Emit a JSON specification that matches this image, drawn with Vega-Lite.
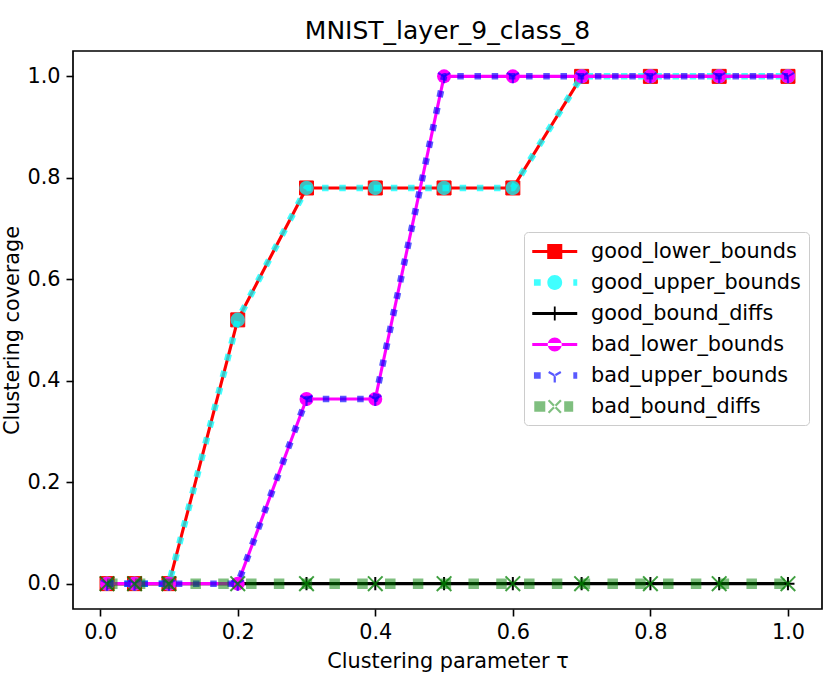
{
  "$schema": "https://vega.github.io/schema/vega-lite/v6.json",
  "width": 749,
  "height": 558,
  "autosize": {"type": "none"},
  "padding": {"left": 73, "top": 51, "right": 8, "bottom": 68},
  "background": "white",
  "config": {
    "font": "DejaVu Sans",
    "view": {"stroke": "black", "strokeWidth": 1.7},
    "axis": {
      "domain": false,
      "grid": false,
      "ticks": true,
      "tickColor": "black",
      "tickSize": 7,
      "tickWidth": 1.6,
      "labelPadding": 6,
      "labelFontSize": 20.8,
      "labelColor": "black",
      "labelFont": "DejaVu Sans",
      "titleFont": "DejaVu Sans",
      "titleFontSize": 20.8,
      "titleFontWeight": "normal",
      "titleColor": "black"
    }
  },
  "title": {
    "text": "MNIST_layer_9_class_8",
    "fontSize": 25,
    "font": "DejaVu Sans",
    "fontWeight": "normal",
    "color": "black",
    "anchor": "middle",
    "frame": "group",
    "baseline": "bottom",
    "offset": 8,
    "dy": 26
  },
  "data": {
    "values": [
      {"t": 0.01, "v": 0, "s": "good_lower_bounds"},
      {"t": 0.05, "v": 0, "s": "good_lower_bounds"},
      {"t": 0.1, "v": 0, "s": "good_lower_bounds"},
      {"t": 0.2, "v": 0.52, "s": "good_lower_bounds"},
      {"t": 0.3, "v": 0.78, "s": "good_lower_bounds"},
      {"t": 0.4, "v": 0.78, "s": "good_lower_bounds"},
      {"t": 0.5, "v": 0.78, "s": "good_lower_bounds"},
      {"t": 0.6, "v": 0.78, "s": "good_lower_bounds"},
      {"t": 0.7, "v": 1, "s": "good_lower_bounds"},
      {"t": 0.8, "v": 1, "s": "good_lower_bounds"},
      {"t": 0.9, "v": 1, "s": "good_lower_bounds"},
      {"t": 1.0, "v": 1, "s": "good_lower_bounds"},
      {"t": 0.01, "v": 0, "s": "good_upper_bounds"},
      {"t": 0.05, "v": 0, "s": "good_upper_bounds"},
      {"t": 0.1, "v": 0, "s": "good_upper_bounds"},
      {"t": 0.2, "v": 0.52, "s": "good_upper_bounds"},
      {"t": 0.3, "v": 0.78, "s": "good_upper_bounds"},
      {"t": 0.4, "v": 0.78, "s": "good_upper_bounds"},
      {"t": 0.5, "v": 0.78, "s": "good_upper_bounds"},
      {"t": 0.6, "v": 0.78, "s": "good_upper_bounds"},
      {"t": 0.7, "v": 1, "s": "good_upper_bounds"},
      {"t": 0.8, "v": 1, "s": "good_upper_bounds"},
      {"t": 0.9, "v": 1, "s": "good_upper_bounds"},
      {"t": 1.0, "v": 1, "s": "good_upper_bounds"},
      {"t": 0.01, "v": 0, "s": "good_bound_diffs"},
      {"t": 0.05, "v": 0, "s": "good_bound_diffs"},
      {"t": 0.1, "v": 0, "s": "good_bound_diffs"},
      {"t": 0.2, "v": 0, "s": "good_bound_diffs"},
      {"t": 0.3, "v": 0, "s": "good_bound_diffs"},
      {"t": 0.4, "v": 0, "s": "good_bound_diffs"},
      {"t": 0.5, "v": 0, "s": "good_bound_diffs"},
      {"t": 0.6, "v": 0, "s": "good_bound_diffs"},
      {"t": 0.7, "v": 0, "s": "good_bound_diffs"},
      {"t": 0.8, "v": 0, "s": "good_bound_diffs"},
      {"t": 0.9, "v": 0, "s": "good_bound_diffs"},
      {"t": 1.0, "v": 0, "s": "good_bound_diffs"},
      {"t": 0.01, "v": 0, "s": "bad_lower_bounds"},
      {"t": 0.05, "v": 0, "s": "bad_lower_bounds"},
      {"t": 0.1, "v": 0, "s": "bad_lower_bounds"},
      {"t": 0.2, "v": 0, "s": "bad_lower_bounds"},
      {"t": 0.3, "v": 0.364, "s": "bad_lower_bounds"},
      {"t": 0.4, "v": 0.364, "s": "bad_lower_bounds"},
      {"t": 0.5, "v": 1, "s": "bad_lower_bounds"},
      {"t": 0.6, "v": 1, "s": "bad_lower_bounds"},
      {"t": 0.7, "v": 1, "s": "bad_lower_bounds"},
      {"t": 0.8, "v": 1, "s": "bad_lower_bounds"},
      {"t": 0.9, "v": 1, "s": "bad_lower_bounds"},
      {"t": 1.0, "v": 1, "s": "bad_lower_bounds"},
      {"t": 0.01, "v": 0, "s": "bad_upper_bounds"},
      {"t": 0.05, "v": 0, "s": "bad_upper_bounds"},
      {"t": 0.1, "v": 0, "s": "bad_upper_bounds"},
      {"t": 0.2, "v": 0, "s": "bad_upper_bounds"},
      {"t": 0.3, "v": 0.364, "s": "bad_upper_bounds"},
      {"t": 0.4, "v": 0.364, "s": "bad_upper_bounds"},
      {"t": 0.5, "v": 1, "s": "bad_upper_bounds"},
      {"t": 0.6, "v": 1, "s": "bad_upper_bounds"},
      {"t": 0.7, "v": 1, "s": "bad_upper_bounds"},
      {"t": 0.8, "v": 1, "s": "bad_upper_bounds"},
      {"t": 0.9, "v": 1, "s": "bad_upper_bounds"},
      {"t": 1.0, "v": 1, "s": "bad_upper_bounds"},
      {"t": 0.01, "v": 0, "s": "bad_bound_diffs"},
      {"t": 0.05, "v": 0, "s": "bad_bound_diffs"},
      {"t": 0.1, "v": 0, "s": "bad_bound_diffs"},
      {"t": 0.2, "v": 0, "s": "bad_bound_diffs"},
      {"t": 0.3, "v": 0, "s": "bad_bound_diffs"},
      {"t": 0.4, "v": 0, "s": "bad_bound_diffs"},
      {"t": 0.5, "v": 0, "s": "bad_bound_diffs"},
      {"t": 0.6, "v": 0, "s": "bad_bound_diffs"},
      {"t": 0.7, "v": 0, "s": "bad_bound_diffs"},
      {"t": 0.8, "v": 0, "s": "bad_bound_diffs"},
      {"t": 0.9, "v": 0, "s": "bad_bound_diffs"},
      {"t": 1.0, "v": 0, "s": "bad_bound_diffs"}
    ]
  },
  "encoding": {
    "x": {
      "field": "t",
      "type": "quantitative",
      "scale": {"domain": [-0.0395, 1.0495], "nice": false, "zero": false},
      "axis": {"values": [0, 0.2, 0.4, 0.6, 0.8, 1.0], "format": ".1f", "title": "Clustering parameter τ", "titlePadding": 10}
    },
    "y": {
      "field": "v",
      "type": "quantitative",
      "scale": {"domain": [-0.05, 1.05], "nice": false, "zero": false},
      "axis": {"values": [0, 0.2, 0.4, 0.6, 0.8, 1.0], "format": ".1f", "title": "Clustering coverage", "titlePadding": 4}
    }
  },
  "layer": [
    {
      "transform": [{"filter": "datum.v > 5"}],
      "mark": {"type": "point", "filled": true, "opacity": 1},
      "encoding": {
        "color": {
          "field": "s",
          "type": "nominal",
          "scale": {
            "domain": ["good_lower_bounds", "good_upper_bounds", "good_bound_diffs", "bad_lower_bounds", "bad_upper_bounds", "bad_bound_diffs"],
            "range": ["#ff0000", "rgba(0,255,255,0.75)", "#000000", "#ff00ff", "rgba(0,0,255,0.65)", "rgba(0,128,0,0.5)"]
          },
          "legend": {
            "title": null,
            "orient": "none",
            "legendX": 451,
            "legendY": 181,
            "direction": "vertical",
            "columns": 1,
            "strokeColor": "#cccccc",
            "fillColor": "rgba(255,255,255,0.8)",
            "cornerRadius": 4,
            "padding": 8,
            "symbolSize": 506,
            "symbolStrokeWidth": 0,
            "symbolOpacity": 1,
            "labelFontSize": 20.8,
            "labelFont": "DejaVu Sans",
            "labelColor": "black",
            "labelOffset": 36,
            "labelLimit": 400,
            "rowPadding": 9
          }
        },
        "shape": {
          "field": "s",
          "type": "nominal",
          "scale": {
            "domain": ["good_lower_bounds", "good_upper_bounds", "good_bound_diffs", "bad_lower_bounds", "bad_upper_bounds", "bad_bound_diffs"],
            "range": [
              "M-1,-0.14H3V0.14H-1Z M0.33,-0.67H1.67V0.67H0.33Z",
              "M-0.85,-0.29H-0.25V0.29H-0.85Z M2.65,-0.29H3V0.29H2.65Z M0.34,0A0.66,0.66 0 1,0 1.66,0A0.66,0.66 0 1,0 0.34,0Z",
              "M-1,-0.13H3V0.13H-1Z M0.92,-0.62H1.08V0.62H0.92Z",
              "M-1,-0.14H3V0.14H-1Z M0.38,0A0.62,0.62 0 1,0 1.62,0A0.62,0.62 0 1,0 0.38,0Z",
              "M-0.85,-0.29H-0.25V0.29H-0.85Z M2.65,-0.29H3V0.29H2.65Z M0.9,0H1.1V0.62H0.9Z M1.05,-0.087L0.95,0.087L0.41,-0.223L0.51,-0.397Z M0.95,-0.087L1.05,0.087L1.59,-0.223L1.49,-0.397Z",
              "M-0.82,-0.47H0.16V0.47H-0.82Z M1.84,-0.47H2.64V0.47H1.84Z M0.52,-0.62L1.62,0.48L1.48,0.62L0.38,-0.48Z M0.52,0.62L1.62,-0.48L1.48,-0.62L0.38,0.48Z"
            ]
          }
        }
      }
    },
    {
      "transform": [{"filter": "datum.s === 'good_lower_bounds'"}],
      "mark": {"type": "line", "color": "#ff0000", "strokeWidth": 3.1, "strokeJoin": "round"}
    },
    {
      "transform": [{"filter": "datum.s === 'good_lower_bounds'"}],
      "mark": {"type": "point", "shape": "square", "size": 196, "filled": true, "fill": "#ff0000", "stroke": "#ff0000", "strokeWidth": 1, "opacity": 1}
    },
    {
      "transform": [{"filter": "datum.s === 'good_upper_bounds'"}],
      "mark": {"type": "line", "color": "#00ffff", "opacity": 0.75, "strokeWidth": 6.5, "strokeDash": [6.5, 10.7], "strokeCap": "butt", "strokeJoin": "round"}
    },
    {
      "transform": [{"filter": "datum.s === 'good_upper_bounds'"}],
      "mark": {"type": "point", "shape": "circle", "size": 210, "filled": true, "fill": "#00ffff", "opacity": 0.75, "strokeWidth": 0}
    },
    {
      "transform": [{"filter": "datum.s === 'good_bound_diffs'"}],
      "mark": {"type": "line", "color": "#000000", "strokeWidth": 3.1, "strokeJoin": "round"}
    },
    {
      "transform": [{"filter": "datum.s === 'good_bound_diffs'"}],
      "mark": {"type": "point", "shape": "M-1,0H1M0,-1V1", "size": 170, "filled": false, "stroke": "#000000", "strokeWidth": 2, "opacity": 1}
    },
    {
      "transform": [{"filter": "datum.s === 'bad_lower_bounds'"}],
      "mark": {"type": "line", "color": "#ff00ff", "strokeWidth": 3.1, "strokeJoin": "round"}
    },
    {
      "transform": [{"filter": "datum.s === 'bad_lower_bounds'"}],
      "mark": {"type": "point", "shape": "circle", "size": 196, "filled": true, "fill": "#ff00ff", "opacity": 1, "strokeWidth": 0}
    },
    {
      "transform": [{"filter": "datum.s === 'bad_upper_bounds'"}],
      "mark": {"type": "line", "color": "#0000ff", "opacity": 0.65, "strokeWidth": 6.5, "strokeDash": [6.5, 10.7], "strokeCap": "butt", "strokeJoin": "round"}
    },
    {
      "transform": [{"filter": "datum.s === 'bad_upper_bounds'"}],
      "mark": {"type": "point", "shape": "M0,0V1M0,0L-0.866,-0.5M0,0L0.866,-0.5", "size": 196, "filled": false, "stroke": "#0000ff", "strokeWidth": 2.2, "opacity": 0.65}
    },
    {
      "transform": [{"filter": "datum.s === 'bad_bound_diffs'"}],
      "mark": {"type": "line", "color": "#008000", "opacity": 0.5, "strokeWidth": 10.5, "strokeDash": [10.5, 17.3], "strokeCap": "butt", "strokeJoin": "round"}
    },
    {
      "transform": [{"filter": "datum.s === 'bad_bound_diffs'"}],
      "mark": {"type": "point", "shape": "M-1,-1L1,1M-1,1L1,-1", "size": 213, "filled": false, "stroke": "#008000", "strokeWidth": 2, "opacity": 0.75}
    }
  ]
}
